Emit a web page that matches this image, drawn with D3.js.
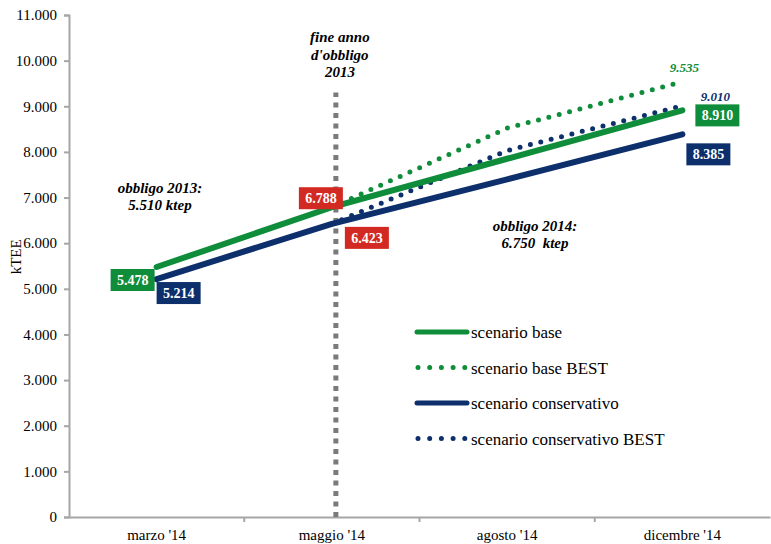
<!DOCTYPE html>
<html>
<head>
<meta charset="utf-8">
<script src="https://cdn.jsdelivr.net/npm/d3@7"></script>
<style>
  html, body { margin: 0; padding: 0; background: #fff; }
  svg { display: block; font-family: "Liberation Serif", "Times New Roman", serif; }
</style>
</head>
<body>
<svg id="chart" width="771" height="544"></svg>
<script>
// Categories on the x axis
const categories = ["marzo '14", "maggio '14", "agosto '14", "dicembre '14"];

// Series values (kTEE)
const scenarioBase = [5478, 6788, 7850, 8910];
const scenarioBaseBest = [null, 6788, 8520, 9535];
const scenarioConservativo = [5214, 6423, 7400, 8385];
const scenarioConservativoBest = [null, 6423, 8030, 9010];

// Y axis tick values
const yTicks = d3.range(0, 11001, 1000);

const seriesNames = ["scenario base", "scenario base BEST", "scenario conservativo", "scenario conservativo BEST"];

const GREEN = "#0f8d3b";
const NAVY = "#0d2f6c";
const RED = "#d22a22";
const AXIS = "#a6a6a6";

const svg = d3.select("#chart");
const margin = { left: 69, right: 1, top: 15, bottom: 27 };
const W = 771, H = 544;

const x = d3.scaleBand().domain(categories).range([margin.left, W - margin.right]).padding(0);
const xc = c => x(c) + x.bandwidth() / 2;
const y = d3.scaleLinear().domain([0, 11000]).range([H - margin.bottom, margin.top]);

const itFmt = d3.formatLocale({ decimal: ",", thousands: ".", grouping: [3], currency: ["€", ""] });
const fmt = itFmt.format(",d");

// Axes
const yAxis = d3.axisLeft(y).tickValues(yTicks).tickFormat(fmt).tickSize(5).tickPadding(7);
const gy = svg.append("g").attr("transform", `translate(${margin.left},0)`).call(yAxis);
gy.select(".domain").attr("stroke", AXIS).attr("stroke-width", 2);
gy.selectAll(".tick line").attr("stroke", AXIS).attr("stroke-width", 2);
gy.selectAll(".tick text").attr("font-size", 15).attr("fill", "#000")
  .attr("font-family", "Liberation Serif, serif");

const xAxis = d3.axisBottom(x).tickSize(0).tickPadding(12);
const gx = svg.append("g").attr("transform", `translate(0,${y(0)})`).call(xAxis);
gx.select(".domain").attr("stroke", AXIS).attr("stroke-width", 2);
gx.selectAll(".tick text").attr("font-size", 15).attr("fill", "#000")
  .attr("font-family", "Liberation Serif, serif");
// tick marks at category boundaries
gx.selectAll(".sep").data(categories.slice(1)).enter().append("line")
  .attr("x1", d => x(d)).attr("x2", d => x(d))
  .attr("y1", 0).attr("y2", 5)
  .attr("stroke", AXIS).attr("stroke-width", 2);

// Axis title
svg.append("text")
  .attr("transform", `translate(21,${y(5700)}) rotate(-90)`)
  .attr("text-anchor", "middle")
  .attr("font-size", 15)
  .text("kTEE");

// End of the 2013 obligation year marker
const xEnd = xc(categories[1]) + 4;
svg.append("line")
  .attr("x1", xEnd).attr("x2", xEnd)
  .attr("y1", y(0)).attr("y2", y(9300))
  .attr("stroke", "#7a7a7a").attr("stroke-width", 5)
  .attr("stroke-dasharray", "5,5.5");

// Lines
const line = d3.line()
  .defined(d => d.v != null)
  .x(d => xc(d.c))
  .y(d => y(d.v));
const toPts = arr => arr.map((v, i) => ({ c: categories[i], v }));

const series = [
  { name: seriesNames[0], values: scenarioBase, color: GREEN, dotted: false },
  { name: seriesNames[1], values: scenarioBaseBest, color: GREEN, dotted: true },
  { name: seriesNames[2], values: scenarioConservativo, color: NAVY, dotted: false },
  { name: seriesNames[3], values: scenarioConservativoBest, color: NAVY, dotted: true }
];

const drawOrder = [3, 1, 2, 0];
drawOrder.forEach(i => {
  const s = series[i];
  svg.append("path")
    .datum(toPts(s.values))
    .attr("d", line)
    .attr("fill", "none")
    .attr("stroke", s.color)
    .attr("stroke-width", s.dotted ? 5 : 6)
    .attr("stroke-linecap", "round")
    .attr("stroke-linejoin", "round")
    .attr("stroke-dasharray", s.dotted ? "0,10.7" : null);
});

// Boxed value labels
function boxLabel(cx, cy, text, fill) {
  const g = svg.append("g");
  const t = g.append("text")
    .attr("x", cx).attr("y", cy + 5)
    .attr("text-anchor", "middle")
    .attr("font-size", 14).attr("font-weight", "bold")
    .attr("fill", "#fff")
    .text(text);
  const w = 44, h = 22;
  g.insert("rect", "text")
    .attr("x", cx - w / 2).attr("y", cy - h / 2)
    .attr("width", w).attr("height", h)
    .attr("fill", fill);
}
const m = categories;
boxLabel(xc(m[0]) - 24, y(scenarioBase[0]) + 13, fmt(scenarioBase[0]), GREEN);
boxLabel(xc(m[0]) + 22, y(scenarioConservativo[0]) + 14, fmt(scenarioConservativo[0]), NAVY);
boxLabel(xc(m[1]) - 11, y(scenarioBase[1]) - 9, fmt(scenarioBase[1]), RED);
boxLabel(xc(m[1]) + 35, y(scenarioConservativo[1]) + 14, fmt(scenarioConservativo[1]), RED);
boxLabel(xc(m[3]) + 35, y(scenarioBase[3]) + 5, fmt(scenarioBase[3]), GREEN);
boxLabel(xc(m[3]) + 26, y(scenarioConservativo[3]) + 20, fmt(scenarioConservativo[3]), NAVY);

// Italic end labels for the BEST scenarios
svg.append("text")
  .attr("x", xc(m[3]) + 2).attr("y", y(scenarioBaseBest[3]) - 10)
  .attr("text-anchor", "middle")
  .attr("font-size", 13).attr("font-weight", "bold").attr("font-style", "italic")
  .attr("fill", GREEN).text(fmt(scenarioBaseBest[3]));
svg.append("text")
  .attr("x", xc(m[3]) + 33).attr("y", y(scenarioConservativoBest[3]) - 5)
  .attr("text-anchor", "middle")
  .attr("font-size", 13).attr("font-weight", "bold").attr("font-style", "italic")
  .attr("fill", NAVY).text(fmt(scenarioConservativoBest[3]));

// Annotations
function note(cx, y0, lines, lh) {
  const t = svg.append("text")
    .attr("text-anchor", "middle")
    .attr("font-size", 15).attr("font-weight", "bold").attr("font-style", "italic")
    .attr("fill", "#000");
  lines.forEach((l, i) => {
    t.append("tspan").attr("x", cx).attr("y", y0 + i * lh).attr("xml:space", "preserve").text(l);
  });
}
note(160, 193, ["obbligo 2013:", "5.510 ktep"], 17);
note(xEnd + 4, 42, ["fine anno", "d'obbligo", "2013"], 17.5);
note(535, 231, ["obbligo 2014:", "6.750\u00a0\u00a0ktep"], 17);

// Legend
const lg = svg.append("g").attr("transform", "translate(416,332)");
series.forEach((s, i) => {
  const ry = i * 35.5;
  lg.append("line")
    .attr("x1", s.dotted ? 2 : 1).attr("x2", s.dotted ? 50 : 51)
    .attr("y1", ry).attr("y2", ry)
    .attr("stroke", s.color)
    .attr("stroke-width", 5)
    .attr("stroke-linecap", "round")
    .attr("stroke-dasharray", s.dotted ? "0,11.7" : null);
  lg.append("text")
    .attr("x", 55).attr("y", ry + 6)
    .attr("font-size", 17)
    .attr("fill", "#000")
    .text(s.name);
});
</script>
</body>
</html>
